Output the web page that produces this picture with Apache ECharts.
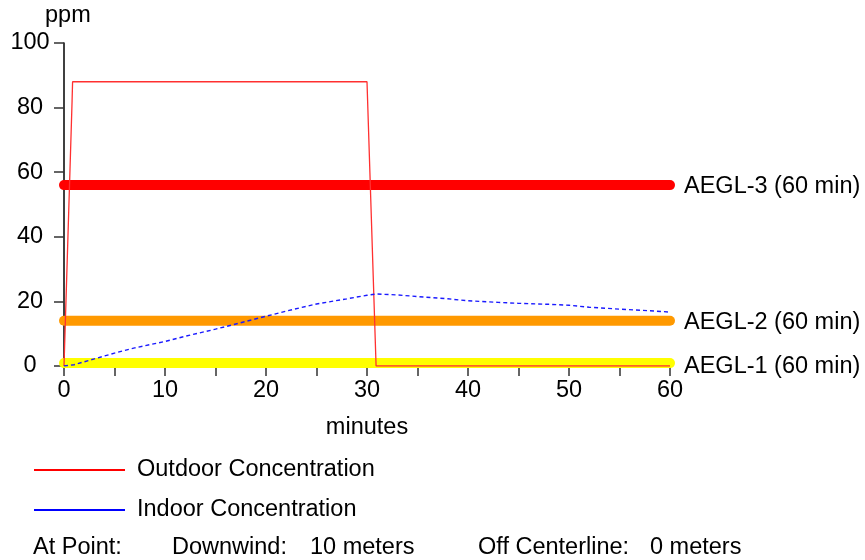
<!DOCTYPE html>
<html><head><meta charset="utf-8">
<script src="https://cdn.jsdelivr.net/npm/echarts@6/dist/echarts.min.js"></script>
<style>html,body{margin:0;padding:0;background:#fff;}#c{width:865px;height:560px;}</style>
</head><body><div id="c"></div>
<script>
// ---- data ----
const outdoorT = [0, 0.8, 0.85, 30, 30.9, 60];
const outdoorV = [0, 82, 88, 88, 0, 0];
const indoorT = [0, 1, 3, 5, 7, 10, 12, 15, 18, 20, 22, 25, 28, 30, 31, 33, 35, 38, 40, 43, 45, 48, 50, 52, 55, 58, 60];
const indoorV = [0, 0.4, 2.2, 4, 5.6, 7.6, 9.2, 11.4, 13.8, 15.4, 17, 19.2, 20.8, 21.9, 22.3, 22, 21.5, 20.8, 20.2, 19.7, 19.4, 19.1, 18.8, 18.2, 17.6, 17.1, 16.7];
const aeglNames = ['AEGL-3 (60 min)', 'AEGL-2 (60 min)', 'AEGL-1 (60 min)'];
const aeglValues = [56, 14, 0.9];
const aeglColors = ['#ff0000', '#ff9900', '#ffff00'];
const timeRange = [0, 60];
const seriesNames = ['Outdoor Concentration', 'Indoor Concentration'];
const footer = ['At Point:', 'Downwind:', '10 meters', 'Off Centerline:', '0 meters'];

const FONT = "'Liberation Sans', Arial, sans-serif";
const FS = 23.5;
const zip = (a, b) => a.map((v, i) => [v, b[i]]);
const labelOffsets = [[0, 1], [0, 2], [0, 3]];

const aeglSeries = aeglNames.map((n, i) => ({
  name: n, type: 'line', silent: true, symbol: 'none', z: 1,
  data: [[timeRange[0], aeglValues[i]], [timeRange[1], aeglValues[i]]],
  lineStyle: { color: aeglColors[i], width: 10, cap: 'round' },
  itemStyle: { color: aeglColors[i] },
  endLabel: { show: true, formatter: n, distance: 14, offset: labelOffsets[i], color: '#000', fontFamily: FONT, fontSize: FS }
}));

const txt = (t, x, y) => ({ type: 'text', left: x, top: y, style: { text: t, fill: '#000', font: FS + 'px ' + FONT } });

const chart = echarts.init(document.getElementById('c'), null, { renderer: 'canvas' });
chart.setOption({
  animation: false,
  backgroundColor: '#fff',
  grid: { left: 64, right: 195, top: 43, bottom: 194, containLabel: false },
  xAxis: {
    type: 'value', min: 0, max: 60, interval: 5,
    name: 'minutes', nameLocation: 'middle', nameGap: 50,
    nameTextStyle: { color: '#000', fontFamily: FONT, fontSize: FS },
    axisLine: { show: true, onZero: false, lineStyle: { color: '#000', width: 1.5 } },
    axisTick: { show: true, length: 10, lineStyle: { color: '#333', width: 1.5 } },
    axisLabel: { color: '#000', fontFamily: FONT, fontSize: FS, margin: 13,
      formatter: v => (v % 10 === 0 ? String(v) : '') },
    splitLine: { show: false }
  },
  yAxis: {
    type: 'value', min: 0, max: 100, interval: 20,
    axisLine: { show: true, lineStyle: { color: '#000', width: 1.5 } },
    axisTick: { show: true, length: 10, lineStyle: { color: '#333', width: 1.5 } },
    axisLabel: { color: '#000', fontFamily: FONT, fontSize: FS, margin: 34, align: 'center' },
    splitLine: { show: false }
  },
  legend: {
    data: seriesNames, orient: 'vertical', left: 29, top: 453,
    icon: 'rect', itemWidth: 91, itemHeight: 2, itemGap: 16,
    textStyle: { color: '#000', fontFamily: FONT, fontSize: FS, padding: [0, 0, 0, 7] },
    selectedMode: false
  },
  graphic: [
    txt('ppm', 45, 4),
    txt(footer[0], 33, 536),
    txt(footer[1], 172, 536),
    txt(footer[2], 310, 536),
    txt(footer[3], 478, 536),
    txt(footer[4], 650, 536)
  ],
  series: aeglSeries.concat([
    { name: seriesNames[0], type: 'line', symbol: 'none', z: 3, data: zip(outdoorT, outdoorV),
      lineStyle: { color: '#ff3030', width: 1.3 }, itemStyle: { color: '#ff0000' } },
    { name: seriesNames[1], type: 'line', symbol: 'none', z: 4, data: zip(indoorT, indoorV),
      lineStyle: { color: '#1a1aff', width: 1.4, type: [4, 3] }, itemStyle: { color: '#0000ff' } }
  ])
});
</script></body></html>
